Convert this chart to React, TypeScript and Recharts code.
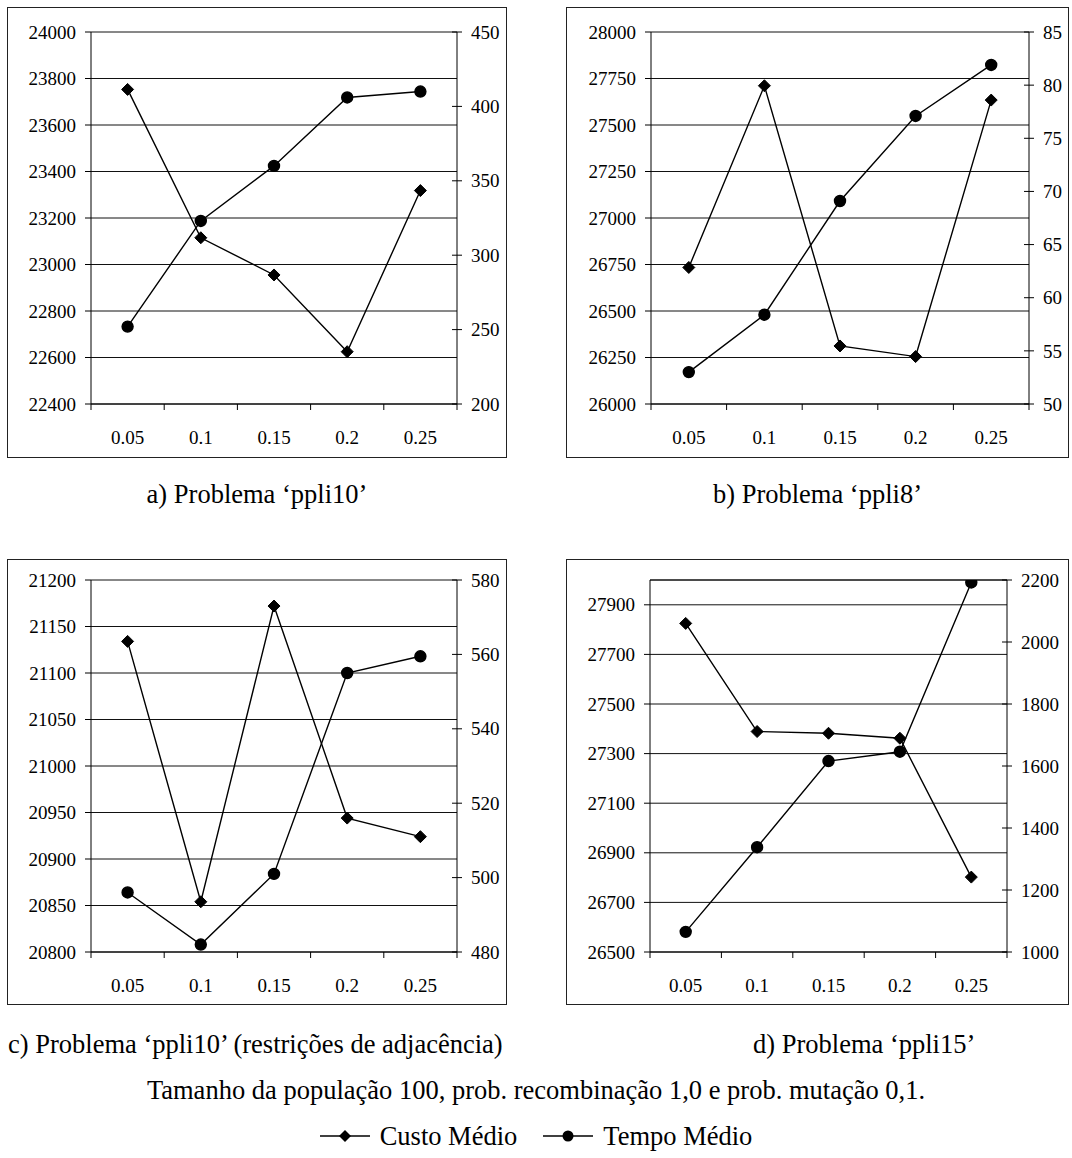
import { LineChart, Line, XAxis, YAxis, CartesianGrid, ReferenceLine } from 'recharts';

const CATEGORIES = ['0.05', '0.1', '0.15', '0.2', '0.25'];

// a) ppli10
const CUSTO_A = [23753, 23115, 22955, 22625, 23318];
const TEMPO_A = [252, 323, 360, 406, 410];
const LEFT_TICKS_A = [22400, 22600, 22800, 23000, 23200, 23400, 23600, 23800, 24000];
const RIGHT_TICKS_A = [200, 250, 300, 350, 400, 450];

// b) ppli8
const CUSTO_B = [26734, 27711, 26312, 26255, 27634];
const TEMPO_B = [53.0, 58.4, 69.1, 77.1, 81.9];
const LEFT_TICKS_B = [26000, 26250, 26500, 26750, 27000, 27250, 27500, 27750, 28000];
const RIGHT_TICKS_B = [50, 55, 60, 65, 70, 75, 80, 85];

// c) ppli10 (restrições de adjacência)
const CUSTO_C = [21134, 20854, 21172, 20944, 20924];
const TEMPO_C = [496, 482, 501, 555, 559.5];
const LEFT_TICKS_C = [20800, 20850, 20900, 20950, 21000, 21050, 21100, 21150, 21200];
const RIGHT_TICKS_C = [480, 500, 520, 540, 560, 580];

// d) ppli15
const CUSTO_D = [27825, 27389, 27382, 27362, 26802];
const TEMPO_D = [1065, 1338, 1616, 1646, 2192];
const LEFT_TICKS_D = [26500, 26700, 26900, 27100, 27300, 27500, 27700, 27900];
const RIGHT_TICKS_D = [1000, 1200, 1400, 1600, 1800, 2000, 2200];

const FONT = '"Liberation Serif", "Times New Roman", serif';
const LABEL_CSS = { fontFamily: FONT, fontSize: 19, fill: '#000' };

function buildRows(custo: number[], tempo: number[]) {
  return CATEGORIES.map((c, i) => ({ x: c, custo: custo[i], tempo: tempo[i] }));
}

function Diamond(props: any) {
  const { cx, cy, index } = props;
  if (cx == null || cy == null) return <g key={`d-${index}`} />;
  const s = 6;
  return (
    <path
      key={`d-${index}`}
      d={`M${cx},${cy - s} L${cx + s},${cy} L${cx},${cy + s} L${cx - s},${cy} Z`}
      fill="#000"
      stroke="#000"
    />
  );
}

// category labels centred in each band, tick marks on the band edges
function XTick(props: any) {
  const { x, y, payload, index, visibleTicksCount } = props;
  const off = payload?.offset ?? 0;
  const axisY = y - 6;
  return (
    <g>
      <line x1={x - off} y1={axisY} x2={x - off} y2={axisY + 6} stroke="#000" />
      {index === visibleTicksCount - 1 && (
        <line x1={x + off} y1={axisY} x2={x + off} y2={axisY + 6} stroke="#000" />
      )}
      <text x={x} y={axisY + 33} dy="0.35em" textAnchor="middle" style={LABEL_CSS}>
        {payload.value}
      </text>
    </g>
  );
}

function LeftTick(props: any) {
  const { x, y, payload } = props;
  return (
    <text x={x} y={y} dy="0.35em" textAnchor="end" style={LABEL_CSS}>
      {payload.value}
    </text>
  );
}

// right axis ticks cross the axis line
function RightTick(props: any) {
  const { x, y, payload } = props;
  const axisX = x - 14;
  return (
    <g>
      <line x1={axisX - 5} y1={y} x2={axisX + 5} y2={y} stroke="#000" />
      <text x={x} y={y} dy="0.35em" textAnchor="start" style={LABEL_CSS}>
        {payload.value}
      </text>
    </g>
  );
}

type PanelProps = {
  left: number; top: number; width: number; height: number;
  margin: { top: number; bottom: number };
  leftW: number; rightW: number;
  custo: number[]; tempo: number[];
  leftTicks: number[]; rightTicks: number[];
  leftDomain: [number, number];
  topLine?: number;
};

function Panel(p: PanelProps) {
  const data = buildRows(p.custo, p.tempo);
  const rd: [number, number] = [p.rightTicks[0], p.rightTicks[p.rightTicks.length - 1]];
  return (
    <div
      style={{
        position: 'absolute', left: p.left, top: p.top, width: p.width, height: p.height,
        border: '1.5px solid #222', boxSizing: 'border-box', background: '#fff', fontFamily: FONT,
      }}
    >
      <LineChart
        width={p.width - 3}
        height={p.height - 3}
        data={data}
        margin={{ top: p.margin.top, right: 0, left: 0, bottom: 0 }}
        style={{ fontFamily: FONT }}
      >
        <CartesianGrid yAxisId="left" vertical={false} stroke="#111" strokeWidth={1} />
        <XAxis
          dataKey="x"
          scale="band"
          height={p.margin.bottom}
          axisLine={{ stroke: '#000' }}
          tickLine={false}
          tickSize={6}
          tickMargin={0}
          interval={0}
          tick={<XTick />}
        />
        <YAxis
          yAxisId="left"
          width={p.leftW}
          domain={p.leftDomain}
          ticks={p.leftTicks}
          interval={0}
          allowDataOverflow
          axisLine={{ stroke: '#000' }}
          tickLine={{ stroke: '#000' }}
          tickSize={6}
          tickMargin={9}
          tick={<LeftTick />}
        />
        <YAxis
          yAxisId="right"
          orientation="right"
          width={p.rightW}
          domain={rd}
          ticks={p.rightTicks}
          interval={0}
          allowDataOverflow
          axisLine={{ stroke: '#000' }}
          tickLine={false}
          tickSize={5}
          tickMargin={9}
          tick={<RightTick />}
        />
        {p.topLine != null && (
          <ReferenceLine yAxisId="left" y={p.topLine} stroke="#111" />
        )}
        <Line
          yAxisId="left"
          type="linear"
          dataKey="custo"
          stroke="#000"
          strokeWidth={1.4}
          dot={Diamond}
          isAnimationActive={false}
        />
        <Line
          yAxisId="right"
          type="linear"
          dataKey="tempo"
          stroke="#000"
          strokeWidth={1.4}
          dot={{ r: 5.5, fill: '#000', stroke: '#000' }}
          isAnimationActive={false}
        />
      </LineChart>
    </div>
  );
}

function LegendItem({ label, shape }: { label: string; shape: 'diamond' | 'circle' }) {
  return (
    <span style={{ display: 'inline-flex', alignItems: 'center', gap: 10 }}>
      <svg width={50} height={16}>
        <line x1={0} y1={8} x2={50} y2={8} stroke="#000" strokeWidth={1.5} />
        {shape === 'diamond' ? (
          <path d="M25,2 L31,8 L25,14 L19,8 Z" fill="#000" />
        ) : (
          <circle cx={25} cy={8} r={5.5} fill="#000" />
        )}
      </svg>
      {label}
    </span>
  );
}

const textStyle = { position: 'absolute' as const, fontFamily: FONT, fontSize: 26.5, lineHeight: '30px', color: '#000', whiteSpace: 'nowrap' as const };

export default function App() {
  return (
    <div style={{ position: 'absolute', left: 0, top: 0, width: 1072, height: 1158, background: '#fff' }}>
      <Panel
        left={7} top={7} width={500} height={451}
        margin={{ top: 24, bottom: 52 }} leftW={83} rightW={48}
        custo={CUSTO_A} tempo={TEMPO_A}
        leftTicks={LEFT_TICKS_A} rightTicks={RIGHT_TICKS_A} leftDomain={[22400, 24000]}
      />
      <Panel
        left={566} top={7} width={503} height={451}
        margin={{ top: 24, bottom: 52 }} leftW={84} rightW={38}
        custo={CUSTO_B} tempo={TEMPO_B}
        leftTicks={LEFT_TICKS_B} rightTicks={RIGHT_TICKS_B} leftDomain={[26000, 28000]}
      />
      <Panel
        left={7} top={559} width={500} height={446}
        margin={{ top: 20, bottom: 51 }} leftW={83} rightW={48}
        custo={CUSTO_C} tempo={TEMPO_C}
        leftTicks={LEFT_TICKS_C} rightTicks={RIGHT_TICKS_C} leftDomain={[20800, 21200]}
      />
      <Panel
        left={566} top={559} width={503} height={446}
        margin={{ top: 20, bottom: 51 }} leftW={83} rightW={60}
        custo={CUSTO_D} tempo={TEMPO_D}
        leftTicks={LEFT_TICKS_D} rightTicks={RIGHT_TICKS_D} leftDomain={[26500, 28000]}
        topLine={28000}
      />

      <div style={{ ...textStyle, left: 7, width: 500, top: 479, textAlign: 'center' }}>a) Problema ‘ppli10’</div>
      <div style={{ ...textStyle, left: 566, width: 503, top: 479, textAlign: 'center' }}>b) Problema ‘ppli8’</div>
      <div style={{ ...textStyle, left: 8, top: 1029 }}>c) Problema ‘ppli10’ (restrições de adjacência)</div>
      <div style={{ ...textStyle, left: 753, top: 1029 }}>d) Problema ‘ppli15’</div>
      <div style={{ ...textStyle, left: 0, width: 1072, top: 1075, textAlign: 'center' }}>
        Tamanho da população 100, prob. recombinação 1,0 e prob. mutação 0,1.
      </div>
      <div style={{ ...textStyle, left: 0, width: 1072, top: 1121, display: 'flex', justifyContent: 'center', gap: 26 }}>
        <LegendItem label="Custo Médio" shape="diamond" />
        <LegendItem label="Tempo Médio" shape="circle" />
      </div>
    </div>
  );
}
